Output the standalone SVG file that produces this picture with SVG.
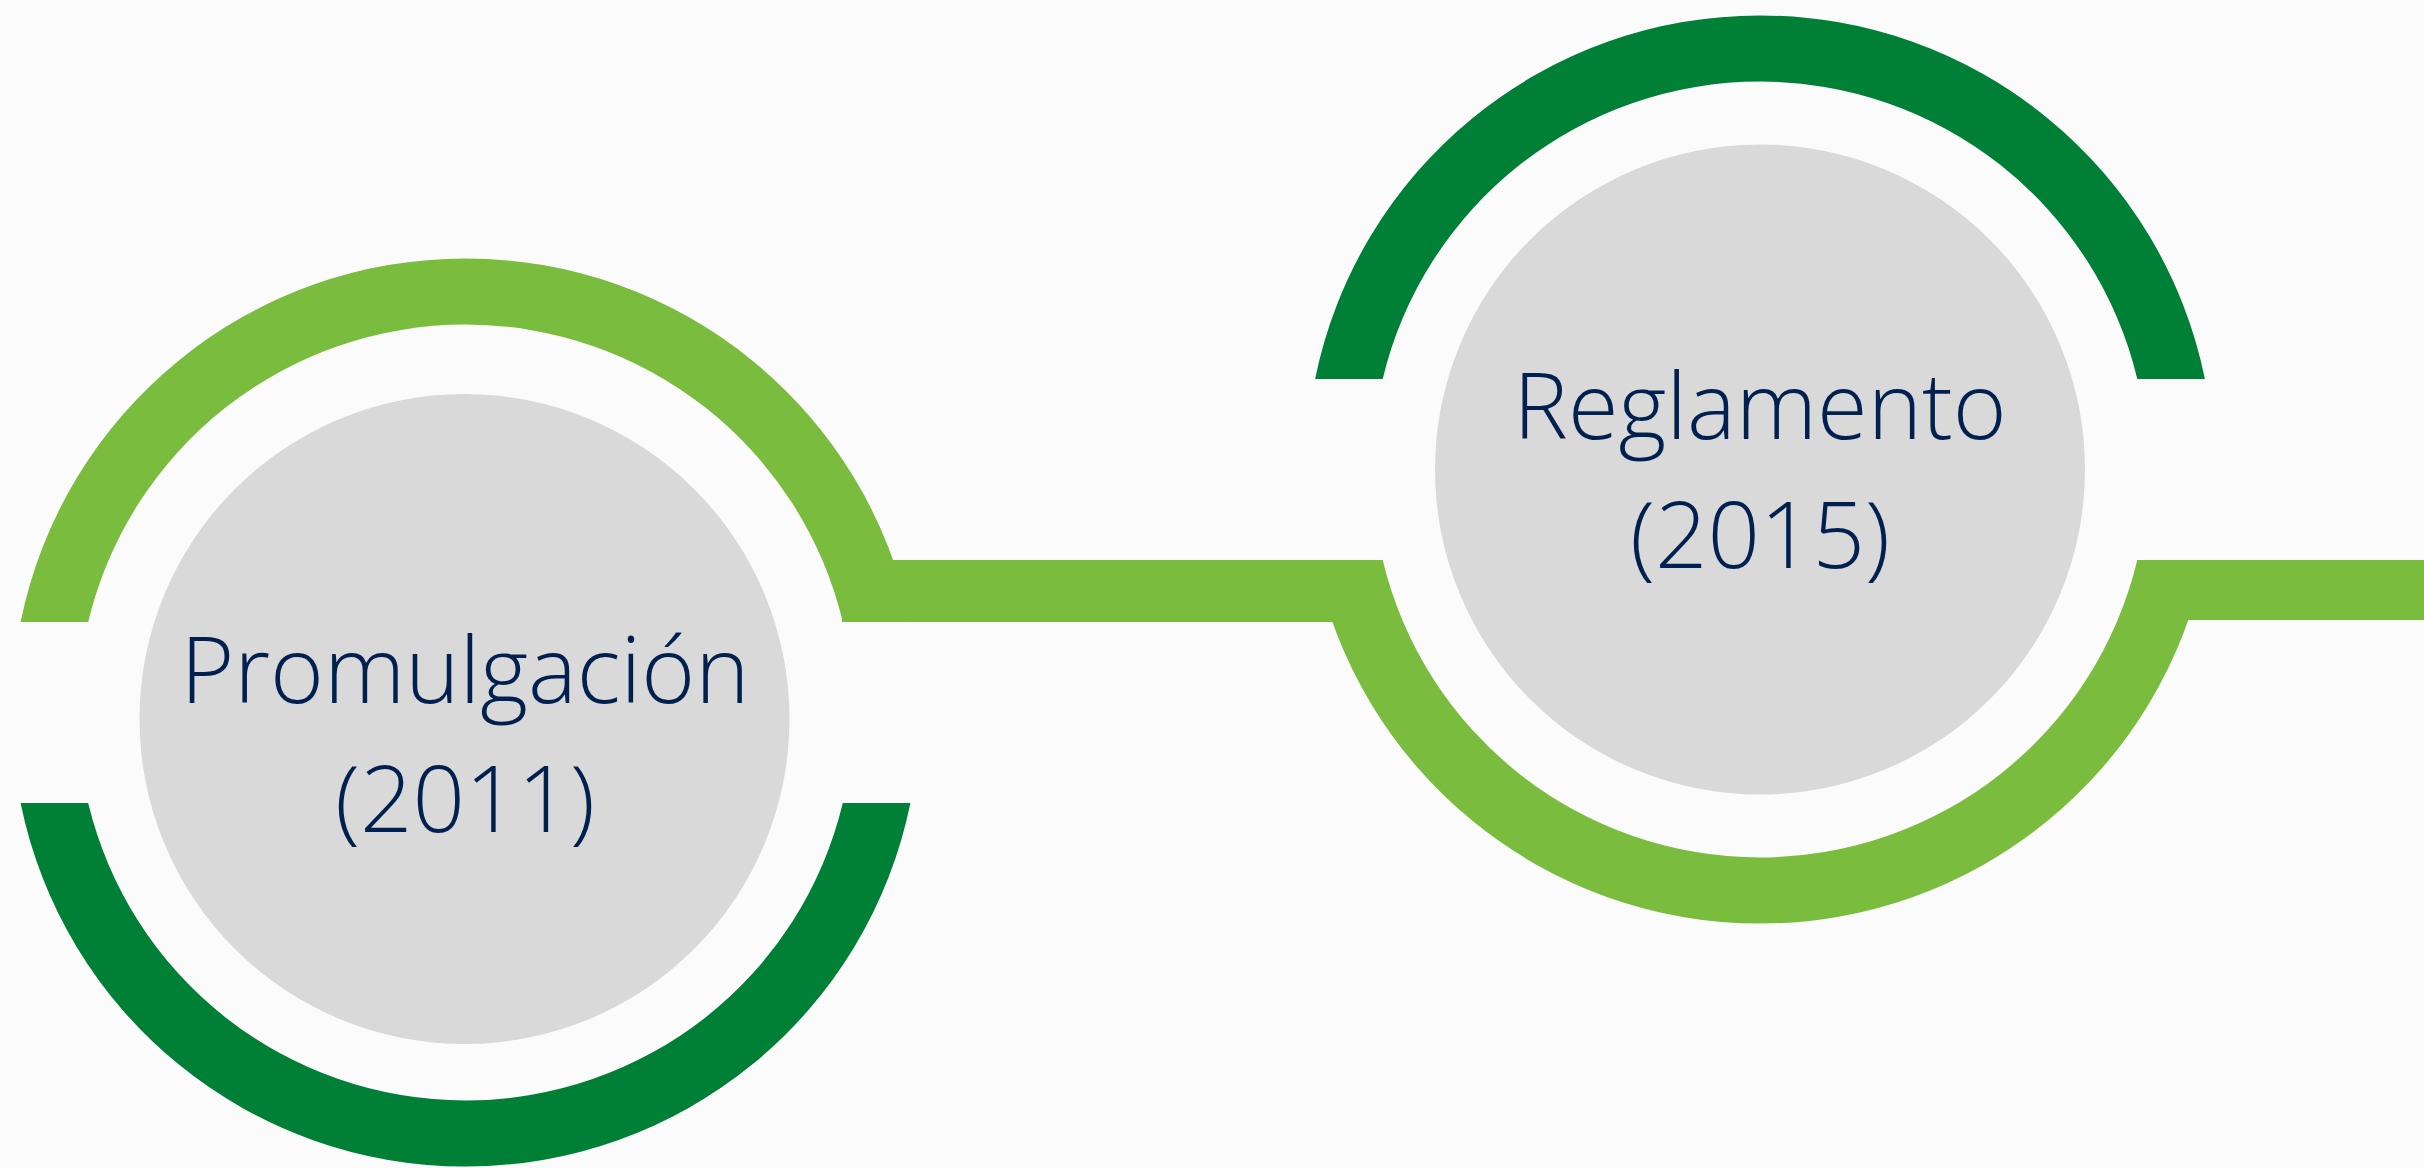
<svg xmlns="http://www.w3.org/2000/svg" width="2424" height="1168" viewBox="0 0 2424 1168">
  <style>
    .light { fill: #7abc3e; }
    .dark { fill: #007f36; }
    .disc { fill: #d9d9d9; }
    .label { font-family: "Open Sans", "Liberation Sans", sans-serif; font-weight: 300; font-size: 92px; fill: #002150; text-anchor: middle; }
  </style>
  <rect x="0" y="0" width="2424" height="1168" fill="#fbfbfb"/>

  <g id="connectors">
    <rect class="light" x="842" y="560" width="541" height="62"/>
    <rect class="light" x="2137" y="560" width="287" height="60"/>
  </g>

  <g id="node-promulgacion">
    <path class="light" d="M 20.6 622 A 454 454 0 0 1 910.4 622 L 842.8 622 A 388 388 0 0 0 88.2 622 Z"/>
    <path class="dark" d="M 20.6 803 A 454 454 0 0 0 910.4 803 L 842.8 803 A 388 388 0 0 1 88.2 803 Z"/>
    <circle class="disc" cx="464.5" cy="719" r="325"/>
    <text class="label" x="465" y="703">Promulgación</text>
    <text class="label" x="465" y="832">(2011)</text>
  </g>

  <g id="node-reglamento">
    <path class="dark" d="M 1315.1 379 A 454 454 0 0 1 2204.9 379 L 2137.3 379 A 388 388 0 0 0 1382.7 379 Z"/>
    <path class="light" d="M 1315.1 560 A 454 454 0 0 0 2204.9 560 L 2137.3 560 A 388 388 0 0 1 1382.7 560 Z"/>
    <circle class="disc" cx="1760" cy="469.5" r="325"/>
    <text class="label" x="1760" y="439">Reglamento</text>
    <text class="label" x="1760" y="568">(2015)</text>
  </g>
</svg>
